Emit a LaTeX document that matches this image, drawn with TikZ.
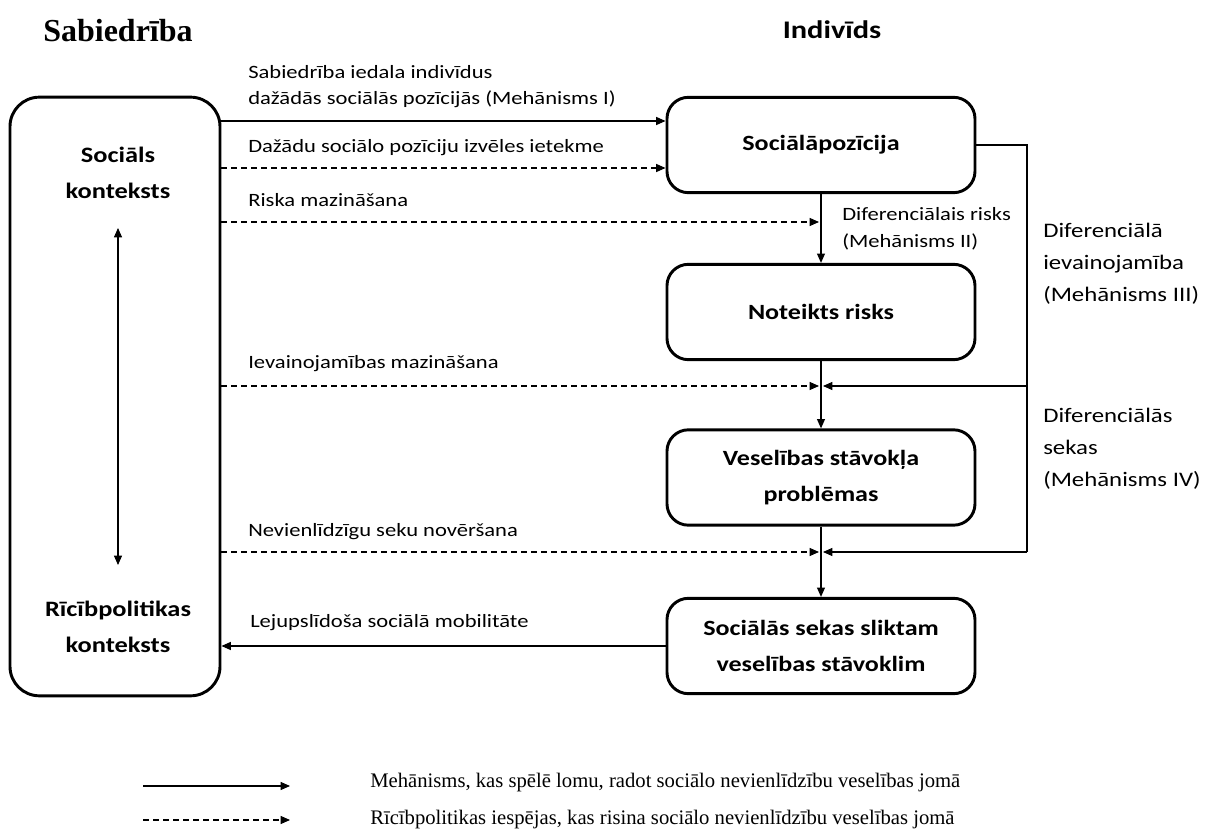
\documentclass[tikz,border=0pt]{standalone}
\usepackage{fontspec}
\setmainfont{Liberation Serif}
\newfontfamily\calfont[FakeStretch=1.2]{Carlito}
\usetikzlibrary{arrows.meta}
\begin{document}
\begin{tikzpicture}[x=0.75pt,y=-0.75pt,
  box/.style={draw, line width=2.2pt, rounded corners=16pt, minimum width=231pt, minimum height=71.5pt, inner sep=0pt, align=center, font=\calfont\bfseries\fontsize{16.3}{27}\selectfont},
  btext/.style={font=\calfont\bfseries\fontsize{16.5}{27}\selectfont, align=center},
  lab/.style={font=\calfont\fontsize{14.1}{20}\selectfont, align=left, inner sep=0pt, anchor=west},
  labr/.style={font=\calfont\fontsize{15.5}{24}\selectfont, align=left, inner sep=0pt, anchor=west},
  tip/.tip={Triangle[length=7pt,width=6pt]},
  arr/.style={-tip, line width=0.8pt},
  darr/.style={arr, dash pattern=on 4.5pt off 3pt},
  leg/.style={font=\fontsize{15.5}{16}\selectfont, anchor=west, inner sep=0pt}]
\useasboundingbox (0,0) rectangle (1208,837);
% titles
\node[font=\bfseries\fontsize{24}{28}\selectfont] (t1) at (118,31) {Sabiedrība};
\node[font=\calfont\bfseries\fontsize{19}{23}\selectfont] (t2) at (832,30) {Indivīds};
% left box
\node[draw, line width=2.2pt, rounded corners=22pt, minimum width=157.5pt, minimum height=449pt] (lb) at (115,396.5) {};
\node[btext] (sk) at (118,173) {Sociāls\\konteksts};
\node[btext] (rk) at (118,627) {Rīcībpolitikas\\konteksts};
\coordinate (da) at (118,228);
\coordinate (db) at (118,565);
\draw[tip-tip, line width=0.8pt] (da) -- (db);
% right boxes
\node[box] (b1) at (821,145) {Sociālāpozīcija};
\node[box] (b2) at (821,312) {Noteikts risks};
\node[box] (b3) at (821,477.5) {Veselības stāvokļa\\problēmas};
\node[box] (b4) at (821,646) {Sociālās sekas sliktam\\veselības stāvoklim};
% junctions
\coordinate (m1) at (819,222);
\coordinate (j1l) at (819,386);
\coordinate (j1r) at (823,386);
\coordinate (j2l) at (819,552);
\coordinate (j2r) at (823,552);
\coordinate (rc0) at (1027,145);
\coordinate (rc1) at (1027,386);
\coordinate (rc2) at (1027,552);
% connectors
\draw[arr] (lb.east |- 0,121) -- (b1.west |- 0,121);
\draw[darr] (lb.east |- 0,168) -- (b1.west |- 0,168);
\draw[darr] (lb.east |- m1) -- (m1);
\draw[darr] (lb.east |- j1l) -- (j1l);
\draw[darr] (lb.east |- j2l) -- (j2l);
\draw[arr] (b4.west) -- (lb.east |- b4.west);
\draw[arr] (b1.south) -- (b2.north);
\draw[arr] (b2.south) -- (b3.north);
\draw[arr] (b3.south) -- (b4.north);
\draw[line width=0.8pt] (b1.east) -- (rc0) -- (rc2);
\draw[arr] (rc1) -- (j1r);
\draw[arr] (rc2) -- (j2r);
% labels
\node[lab] (l1) at (248,86.5) {Sabiedrība iedala indivīdus\\dažādās sociālās pozīcijās (Mehānisms I)};
\node[lab] (l2) at (248,148) {Dažādu sociālo pozīciju izvēles ietekme};
\node[lab] (l3) at (248,200) {Riska mazināšana};
\node[lab] (l4) at (248,364) {Ievainojamības mazināšana};
\node[lab] (l5) at (248,532) {Nevienlīdzīgu seku novēršana};
\node[lab] (l6) at (250,623) {Lejupslīdoša sociālā mobilitāte};
\node[lab] (l7) at (842,229) {Diferenciālais risks\\(Mehānisms II)};
\node[labr] (l8) at (1043,264) {Diferenciālā\\ievainojamība\\(Mehānisms III)};
\node[labr] (l9) at (1043,449) {Diferenciālās\\sekas\\(Mehānisms IV)};
% legend
\coordinate (ls1) at (143,786);
\coordinate (le1) at (290,786);
\coordinate (ls2) at (143,820);
\coordinate (le2) at (290,820);
\draw[arr] (ls1) -- (le1);
\draw[darr] (ls2) -- (le2);
\node[leg] (g1) at (370,783) {Mehānisms, kas spēlē lomu, radot sociālo nevienlīdzību veselības jomā};
\node[leg] (g2) at (370,820) {Rīcībpolitikas iespējas, kas risina sociālo nevienlīdzību veselības jomā};
\end{tikzpicture}
\end{document}
